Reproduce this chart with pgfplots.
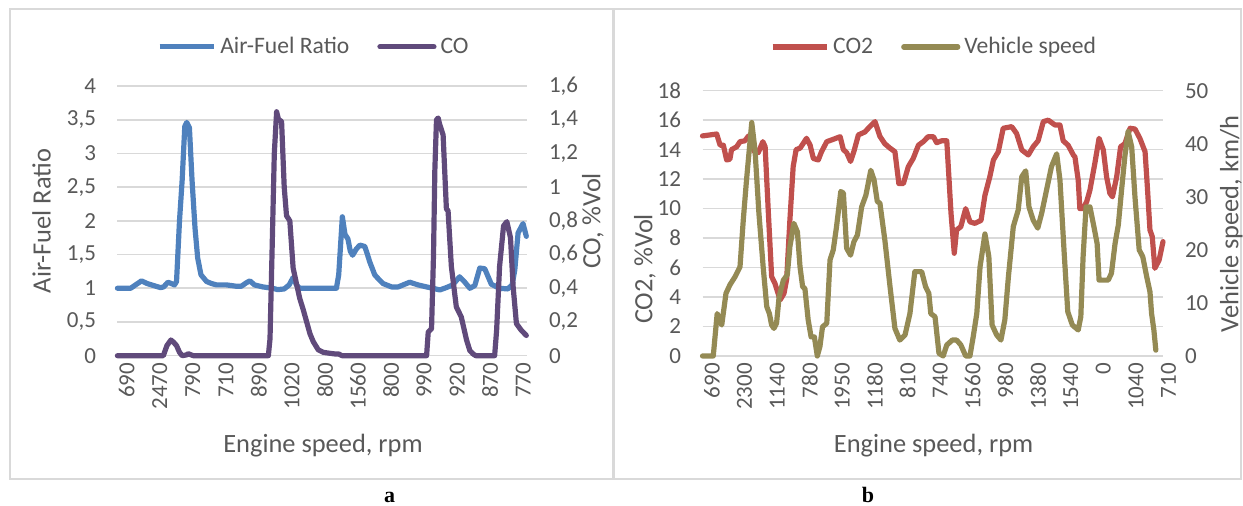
\documentclass[border=0pt]{standalone}
\usepackage{fontspec}
\setmainfont{Carlito}
\newfontfamily\tnr{Liberation Serif}
\usepackage{pgfplots}
\pgfplotsset{compat=1.18}
\definecolor{afr}{HTML}{4F81BD}
\definecolor{co}{HTML}{604A7B}
\definecolor{cotwo}{HTML}{C0504D}
\definecolor{spd}{HTML}{948A54}
\definecolor{txt}{HTML}{595959}
\definecolor{gridc}{HTML}{D9D9D9}
\pgfplotsset{
  base/.style={scale only axis, clip=false, xmin=0, axis line style={draw=none},
    major tick length=0pt,
    tick label style={font=\fontsize{11.5}{13}\selectfont, text=txt},
    /pgf/number format/assume math mode=true,
    legend style={draw=none, fill=none, font=\fontsize{11.8}{14}\selectfont, text=txt,
      legend columns=2, /tikz/every even column/.append style={column sep=12pt}},
    legend image code/.code={\draw[#1] (0pt,0pt) -- (27pt,0pt);},
  },
  leftax/.style={base, axis y line*=left, axis x line*=bottom, ymajorgrids,
    grid style={gridc, line width=0.8pt},
    xticklabel style={rotate=90, anchor=east, yshift=-4.7pt},
    yticklabel style={xshift=-7.2pt}},
  rightax/.style={base, axis y line*=right, axis x line=none,
    yticklabel style={anchor=west, xshift=7.5pt}},
}
\tikzset{ser/.style={line width=2.6pt, line join=round, line cap=round}}
\begin{document}
\begin{tikzpicture}
\useasboundingbox (0,0) rectangle (621.5pt,253pt);
\draw[gridc, line width=1pt] (4.75pt,13.5pt) rectangle (306.5pt,248.35pt);
\draw[gridc, line width=1pt] (307pt,13.5pt) rectangle (620.5pt,248.35pt);
% ---------------- Panel a ----------------
\begin{axis}[leftax, at={(58.7pt,75.15pt)}, anchor=south west,
  width=204.8pt, height=134.85pt, xmax=124, ymin=0, ymax=4,
  ytick={0,0.5,1,1.5,2,2.5,3,3.5,4},
  yticklabels={0,{0,5},1,{1,5},2,{2,5},3,{3,5},4},
  xtick={0,10,20,30,40,50,60,70,80,90,100,110,120},
  xticklabels={690,2470,790,710,890,1020,800,1560,800,990,920,870,770}]
\addplot[afr, ser] coordinates {(0,1.0)(4,1.0)(5.5,1.05)(7.3,1.11)(9,1.07)(11,1.04)(13,1.01)(14,1.02)(15.3,1.09)(16.3,1.07)(17.3,1.05)(17.9,1.1)(18.8,2.0)(19.6,2.6)(20.4,3.4)(21,3.46)(21.8,3.38)(22.6,2.6)(23.5,1.89)(24.3,1.45)(25.3,1.2)(27,1.1)(28.5,1.07)(30,1.05)(33,1.05)(36,1.03)(37.5,1.03)(39,1.08)(40.1,1.11)(41.5,1.05)(44,1.02)(47,1.0)(48.5,0.98)(50.5,0.99)(52,1.05)(53.2,1.16)(54.2,1.05)(55.2,1.0)(66.3,1.0)(67,1.2)(68.1,2.06)(68.9,1.8)(69.8,1.73)(70.5,1.55)(71.2,1.49)(72.3,1.58)(73.4,1.64)(74.9,1.62)(75.7,1.5)(76.4,1.39)(77.9,1.2)(79,1.14)(80.4,1.07)(83,1.02)(85,1.02)(88.5,1.09)(91,1.05)(93.6,1.02)(95.5,1.0)(97.6,0.975)(99.6,1.01)(101.5,1.05)(103.6,1.17)(105,1.1)(106.7,1.0)(108.2,1.04)(109.7,1.3)(111.2,1.29)(113.2,1.06)(115.7,1.0)(118.2,0.99)(119.5,1.05)(120.3,1.27)(121.3,1.82)(122.8,1.96)(123.8,1.77)};
\end{axis}
\begin{axis}[rightax, at={(58.7pt,75.15pt)}, anchor=south west,
  width=204.8pt, height=134.85pt, xmax=124, ymin=0, ymax=1.6,
  ytick={0,0.2,0.4,0.6,0.8,1,1.2,1.4,1.6},
  yticklabels={0,{0,2},{0,4},{0,6},{0,8},1,{1,2},{1,4},{1,6}},
  legend style={at={(0.482,1.145)}, anchor=center}]
\addlegendimage{afr, line width=2.6pt}
\addlegendentry{Air-Fuel Ratio}
\addplot[co, ser] coordinates {(0,0)(13.9,0)(15,0.06)(16.2,0.093)(17,0.08)(17.9,0.06)(18.8,0.02)(19.6,0)(21,0.005)(21.4,0.012)(22.3,0.005)(23,0)(45.7,0)(46.2,0.1)(46.8,0.6)(47.5,1.2)(48.2,1.447)(48.8,1.4)(49.7,1.39)(50.5,1.0)(51.2,0.83)(52.2,0.8)(53.2,0.52)(54.3,0.42)(55.2,0.34)(56.3,0.27)(57.3,0.2)(58.3,0.13)(59.3,0.083)(60.8,0.035)(62.3,0.02)(64,0.015)(66,0.01)(67,0.01)(68,0)(93.6,0)(94.1,0.14)(95.1,0.16)(95.7,0.6)(96.1,1.1)(96.6,1.40)(97.1,1.41)(97.6,1.37)(98.6,1.31)(99.6,0.87)(100.1,0.86)(101.1,0.53)(102.6,0.29)(104.1,0.23)(105.7,0.093)(106.7,0.03)(107.7,0.01)(108.5,0)(114.2,0)(114.8,0.15)(115.7,0.53)(116.9,0.77)(117.9,0.795)(119,0.70)(119.8,0.41)(120.8,0.19)(122.3,0.15)(123.8,0.12)};
\addlegendentry{CO}
\end{axis}
% ---------------- Panel b ----------------
\begin{axis}[leftax, at={(351.25pt,75pt)}, anchor=south west,
  width=230.25pt, height=132.65pt, xmax=141.2, ymin=0, ymax=18,
  ytick={0,2,4,6,8,10,12,14,16,18},
  yticklabels={0,2,4,6,8,10,12,14,16,18},
  xtick={0,10,20,30,40,50,60,70,80,90,100,110,120,130,140},
  xticklabels={690,2300,1140,780,1950,1180,810,740,1560,980,1380,1540,0,1040,710}]
\addplot[cotwo, ser] coordinates {(0,14.93)(4.35,15.06)(5.4,14.3)(6.4,14.3)(7.4,13.3)(8.4,13.35)(8.9,14.0)(10.5,14.2)(11.5,14.54)(13,14.6)(14,14.9)(15,15.0)(15.8,13.86)(17.1,13.8)(18.5,14.54)(19.2,14.2)(20.2,9.68)(21.2,5.38)(22.2,4.93)(23.8,3.8)(25,4.25)(25.8,5.2)(26.8,9.23)(27.8,12.84)(28.7,14.0)(29.9,14.1)(30.9,14.43)(31.9,14.77)(33,14.3)(34,13.4)(35.5,13.3)(36.5,13.86)(38.1,14.54)(40.1,14.7)(42.2,14.88)(43.2,14.0)(44.2,13.8)(45.4,13.2)(46.4,13.86)(47.8,15.0)(49.8,15.2)(51.3,15.56)(52.9,15.9)(54.4,14.9)(55.9,14.4)(57.5,14.1)(59,13.86)(60.2,11.7)(61.6,11.7)(63.1,12.84)(64.6,13.4)(66.2,14.3)(67.7,14.54)(69.2,14.88)(70.8,14.88)(71.8,14.47)(73.3,14.6)(74.9,14.6)(76.2,9.68)(77.2,6.97)(77.9,8.55)(79.2,8.77)(80.7,10.0)(82,9.1)(83.5,9.0)(85.4,9.2)(86.6,10.9)(88.1,12.16)(89.2,13.3)(90.7,13.86)(92.2,15.45)(94.8,15.56)(96.3,15.1)(97.9,13.98)(99.9,13.64)(101.4,14.2)(102.9,14.6)(104.5,15.9)(106,16.0)(108.1,15.67)(109.6,15.67)(110.6,14.6)(112.1,14.3)(113.7,13.64)(114.2,13.5)(115.2,11.94)(115.7,10.0)(116.7,10.0)(117.8,10.47)(118.8,11.26)(120.3,13.07)(121.6,14.77)(122.9,13.98)(123.9,12.16)(124.9,11.04)(125.7,10.8)(127,12.16)(128.2,14.2)(129.5,14.4)(131.1,15.45)(132.6,15.4)(134.1,14.77)(135.7,13.86)(136.4,11.49)(137.2,8.55)(137.9,8.1)(138.7,5.95)(140,6.5)(141.2,7.76)};
\end{axis}
\begin{axis}[rightax, at={(351.25pt,75pt)}, anchor=south west,
  width=230.25pt, height=132.65pt, xmax=141.2, ymin=0, ymax=50,
  ytick={0,10,20,30,40,50},
  yticklabels={0,10,20,30,40,50},
  legend style={at={(0.505,1.165)}, anchor=center}]
\addlegendimage{cotwo, line width=2.6pt}
\addlegendentry{CO2}
\addplot[spd, ser] coordinates {(0,0)(3.3,0)(4.5,8.0)(5.9,5.84)(7.2,11.8)(8.4,13.4)(10,14.95)(11.5,16.8)(12.5,25.6)(13.5,33.2)(15.1,44.0)(16.1,38.8)(17.3,26.9)(18.6,16.8)(19.7,9.3)(20.5,8.0)(21.2,5.84)(21.9,5.2)(22.7,6.15)(23.5,11.2)(24.8,14.3)(26,15.3)(26.8,20.6)(28,25.0)(29.1,23.4)(29.9,16.8)(30.7,13.06)(31.4,12.7)(32.4,6.8)(33.3,3.6)(34.3,3.6)(35.2,0)(36,1.76)(36.8,5.5)(38.1,6.15)(39.1,18.1)(40.1,20)(41.1,24.4)(42.4,31.0)(43.2,30.7)(44.2,20.3)(45.4,19.0)(46.4,21.5)(47.5,22.8)(48.8,28.1)(50.1,30.3)(51.6,35.0)(52.6,33.2)(53.6,29.1)(54.4,28.8)(55.9,21.9)(57.5,13.06)(59,5.2)(60.5,3.0)(62.1,3.96)(63.6,8.0)(65.1,15.9)(67.2,15.9)(68.4,13.06)(69.4,11.8)(70,8.0)(71.3,7.4)(72.5,0.5)(73.8,0)(74.9,2.07)(76.6,3.0)(77.9,3.0)(79.2,2.1)(80.7,0)(82,0)(83,3.6)(84.1,8.0)(85.1,16.8)(86.6,23.0)(87.8,18.7)(88.8,5.84)(90.2,3.96)(91.5,3.0)(92.7,6.8)(93.8,14.95)(95.3,24.4)(96.8,27.5)(97.9,33.8)(99.1,34.9)(100.1,28.1)(101.4,25.6)(102.8,24.1)(104,26.9)(105.5,31.3)(107,35.7)(108.6,38.1)(109.6,33.2)(110.9,19.4)(112,8.35)(113.4,5.84)(115.2,4.9)(116,7.4)(116.7,18.7)(117.6,28.1)(118.8,28.1)(120,24.4)(121,21.2)(121.6,14.3)(124.4,14.3)(125.4,15.6)(126.5,21.2)(127.5,24.7)(128.5,31.3)(129.5,37.6)(130.5,42.3)(131.6,39.4)(132.6,30.0)(133.9,20.0)(135,18.7)(136.2,14.95)(137.2,12.1)(137.7,8.0)(138.4,4.9)(139,1.1)};
\addlegendentry{Vehicle speed}
\end{axis}
% ---------------- titles ----------------
\begin{scope}[every node/.style={text=txt, font=\fontsize{13.2}{15}\selectfont}]
\node[rotate=90] at (20.75pt,142.5pt) {Air-Fuel Ratio};
\node[rotate=90] at (296.5pt,142.5pt) {CO, \%Vol};
\node at (161.5pt,30pt) {Engine speed, rpm};
\node[rotate=90] at (322.5pt,118.5pt) {CO2, \%Vol};
\node[rotate=90] at (615.6pt,141pt) {Vehicle speed, km/h};
\node at (466.8pt,30pt) {Engine speed, rpm};
\end{scope}
\node[font=\tnr\bfseries\fontsize{11}{13}\selectfont, anchor=base] at (194.75pt,1.5pt) {a};
\node[font=\tnr\bfseries\fontsize{11}{13}\selectfont, anchor=base] at (434pt,1.5pt) {b};
\end{tikzpicture}
\end{document}
